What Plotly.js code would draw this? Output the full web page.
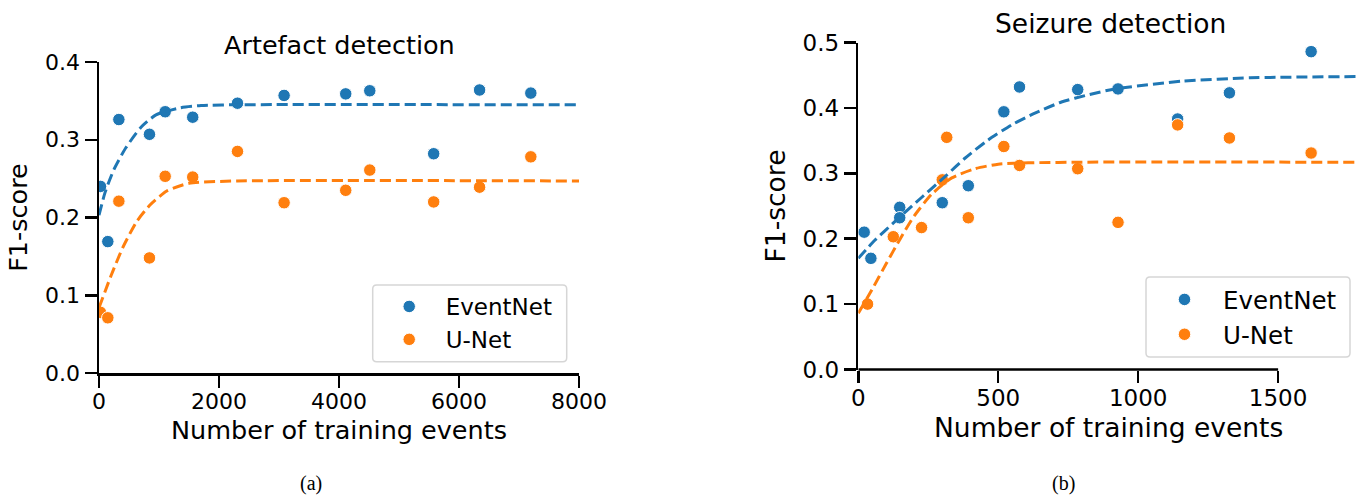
<!DOCTYPE html>
<html>
<head>
<meta charset="utf-8">
<script src="https://cdn.plot.ly/plotly-3.0.1.min.js"></script>
<style>html,body{margin:0;padding:0;background:#fff;}#chart{width:1359px;height:496px;}</style>
</head>
<body>
<div id="chart"></div>
<script>
// ---- Artefact detection (a) ----
const artX = [25, 147, 331, 841, 1103, 1562, 2308, 3085, 4112, 4513, 5578, 6343, 7197];
const artEventNet = [0.240, 0.169, 0.326, 0.307, 0.336, 0.329, 0.347, 0.357, 0.359, 0.363, 0.282, 0.364, 0.360];
const artUNet = [0.078, 0.071, 0.221, 0.148, 0.253, 0.252, 0.285, 0.219, 0.235, 0.261, 0.220, 0.239, 0.278];
const artFitXE = [0, 100, 250, 450, 700, 950, 1350, 1700, 2300, 8000];
const artFitEventNet = [0.203, 0.232, 0.262, 0.290, 0.316, 0.332, 0.341, 0.344, 0.345, 0.345];
const artFitXU = [0, 200, 400, 630, 850, 1130, 1500, 2300, 8000];
const artFitUNet = [0.084, 0.125, 0.162, 0.195, 0.216, 0.234, 0.244, 0.247, 0.247];
const artXTicks = [0, 2000, 4000, 6000, 8000];
const artYTicks = [0.0, 0.1, 0.2, 0.3, 0.4];

// ---- Seizure detection (b) ----
const seizXEventNet = [21, 45, 148, 148, 300, 393, 520, 576, 784, 928, 1141, 1326, 1618];
const seizEventNet = [0.210, 0.170, 0.248, 0.232, 0.255, 0.281, 0.394, 0.432, 0.428, 0.429, 0.383, 0.423, 0.486];
const seizXUNet = [33, 125, 226, 300, 316, 393, 520, 576, 784, 928, 1141, 1326, 1618];
const seizUNet = [0.100, 0.203, 0.217, 0.290, 0.355, 0.232, 0.341, 0.312, 0.307, 0.225, 0.374, 0.354, 0.331];
const seizFitXE = [0, 60, 143, 226, 310, 381, 464, 548, 631, 726, 821, 917, 1160, 1400, 1789];
const seizFitEventNet = [0.170, 0.198, 0.231, 0.263, 0.295, 0.323, 0.351, 0.374, 0.392, 0.409, 0.420, 0.429, 0.441, 0.446, 0.448];
const seizFitXU = [0, 50, 100, 150, 200, 262, 334, 417, 500, 607, 800, 1789];
const seizFitUNet = [0.086, 0.123, 0.162, 0.200, 0.235, 0.268, 0.293, 0.307, 0.314, 0.316, 0.317, 0.317];
const seizXTicks = [0, 500, 1000, 1500];
const seizYTicks = [0.0, 0.1, 0.2, 0.3, 0.4, 0.5];

const seriesNames = ['EventNet', 'U-Net'];
const titles = ['Artefact detection', 'Seizure detection'];
const captions = ['(a)', '(b)'];
const xLabel = 'Number of training events';
const yLabel = 'F1-score';

const BLUE = '#1f77b4', ORANGE = '#ff7f0e';
const FONT = 'DejaVu Sans, Verdana, sans-serif';
const W = 1359, H = 496;
const px = v => v / W;
const py = v => (H - v) / H;

function pts(x, y, name, color, xa, ya, leg) {
  return {type: 'scatter', mode: 'markers', x: x, y: y, name: name, xaxis: xa, yaxis: ya, legend: leg,
    marker: {color: color, size: 12.5, line: {color: '#ffffff', width: 1}}, hoverinfo: 'x+y'};
}
function fit(x, y, color, xa, ya) {
  return {type: 'scatter', mode: 'lines', x: x, y: y, xaxis: xa, yaxis: ya, showlegend: false,
    line: {color: color, width: 3, dash: '11px,5px', shape: 'spline', smoothing: 0.6}, hoverinfo: 'skip'};
}

const data = [
  pts(artX, artEventNet, seriesNames[0], BLUE, 'x', 'y', 'legend'),
  pts(artX, artUNet, seriesNames[1], ORANGE, 'x', 'y', 'legend'),
  fit(artFitXE, artFitEventNet, BLUE, 'x', 'y'),
  fit(artFitXU, artFitUNet, ORANGE, 'x', 'y'),
  pts(seizXEventNet, seizEventNet, seriesNames[0], BLUE, 'x2', 'y2', 'legend2'),
  pts(seizXUNet, seizUNet, seriesNames[1], ORANGE, 'x2', 'y2', 'legend2'),
  fit(seizFitXE, seizFitEventNet, BLUE, 'x2', 'y2'),
  fit(seizFitXU, seizFitUNet, ORANGE, 'x2', 'y2')
];

const axCommon = {showgrid: false, zeroline: false, ticks: 'outside', ticklen: 12, tickwidth: 2.5,
  tickcolor: '#000', linecolor: '#000', linewidth: 2.5, tickfont: {family: FONT, size: 22, color: '#000'}};

// rounded legend frame (paper coords from pixel box)
function roundBox(x0, y0, x1, y1, r) {
  const X = v => px(v).toFixed(5), Y = v => py(v).toFixed(5);
  return 'M ' + X(x0 + r) + ' ' + Y(y0) + ' L ' + X(x1 - r) + ' ' + Y(y0) +
    ' Q ' + X(x1) + ' ' + Y(y0) + ' ' + X(x1) + ' ' + Y(y0 + r) +
    ' L ' + X(x1) + ' ' + Y(y1 - r) + ' Q ' + X(x1) + ' ' + Y(y1) + ' ' + X(x1 - r) + ' ' + Y(y1) +
    ' L ' + X(x0 + r) + ' ' + Y(y1) + ' Q ' + X(x0) + ' ' + Y(y1) + ' ' + X(x0) + ' ' + Y(y1 - r) +
    ' L ' + X(x0) + ' ' + Y(y0 + r) + ' Q ' + X(x0) + ' ' + Y(y0) + ' ' + X(x0 + r) + ' ' + Y(y0) + ' Z';
}

const layout = {
  width: W, height: H, margin: {l: 0, r: 0, t: 0, b: 0},
  paper_bgcolor: '#fff', plot_bgcolor: '#fff',
  font: {family: FONT, color: '#000'},
  xaxis: Object.assign({}, axCommon, {domain: [px(99), px(579)], range: [0, 8000], tickvals: artXTicks,
    showline: true, anchor: 'y', ticklabelstandoff: -5,
    title: {text: xLabel, font: {family: FONT, size: 25.5, color: '#000'}, standoff: 8}}),
  yaxis: Object.assign({}, axCommon, {domain: [py(373), py(62)], range: [0, 0.4], tickvals: artYTicks, tickformat: '.1f',
    showline: true, anchor: 'x', title: {text: yLabel, font: {family: FONT, size: 25.5, color: '#000'}, standoff: 10}}),
  xaxis2: Object.assign({}, axCommon, {domain: [px(858.3), 1], range: [0, 1789], tickvals: seizXTicks,
    showline: false, anchor: 'y2', ticklabelstandoff: -4, tickfont: {family: FONT, size: 23, color: '#000'},
    title: {text: xLabel, font: {family: FONT, size: 26.5, color: '#000'}, standoff: 8}}),
  yaxis2: Object.assign({}, axCommon, {domain: [py(369.5), py(42.5)], range: [0, 0.5], tickvals: seizYTicks, tickformat: '.1f',
    showline: true, anchor: 'x2', tickfont: {family: FONT, size: 23, color: '#000'},
    title: {text: yLabel, font: {family: FONT, size: 26.5, color: '#000'}, standoff: 10}}),
  shapes: [
    {type: 'line', xref: 'x2', yref: 'y2 domain', x0: 0, x1: seizXTicks[seizXTicks.length - 1], y0: 0, y1: 0,
      line: {color: '#000', width: 2.5}, layer: 'above'},
    {type: 'path', xref: 'paper', yref: 'paper', path: roundBox(372.7, 285, 566.7, 361.7, 4),
      fillcolor: 'rgba(255,255,255,0.8)', line: {color: '#d6d6d6', width: 1.5}, layer: 'above'},
    {type: 'path', xref: 'paper', yref: 'paper', path: roundBox(1146, 277, 1350, 357, 4),
      fillcolor: 'rgba(255,255,255,0.8)', line: {color: '#d6d6d6', width: 1.5}, layer: 'above'}
  ],
  legend: {x: px(372.7), y: py(285), xanchor: 'left', yanchor: 'top', bgcolor: 'rgba(0,0,0,0)',
    borderwidth: 0, font: {family: FONT, size: 23, color: '#000'}, itemwidth: 63},
  legend2: {x: px(1146), y: py(277), xanchor: 'left', yanchor: 'top', bgcolor: 'rgba(0,0,0,0)',
    borderwidth: 0, font: {family: FONT, size: 24.5, color: '#000'}, itemwidth: 67},
  annotations: [
    {text: titles[0], xref: 'paper', yref: 'paper', x: px(339), y: py(45), xanchor: 'center', yanchor: 'middle',
      showarrow: false, font: {family: FONT, size: 25.5, color: '#000'}},
    {text: titles[1], xref: 'paper', yref: 'paper', x: px(1110), y: py(24), xanchor: 'center', yanchor: 'middle',
      showarrow: false, font: {family: FONT, size: 26.5, color: '#000'}},
    {text: captions[0], xref: 'paper', yref: 'paper', x: px(311), y: py(483), xanchor: 'center', yanchor: 'middle',
      showarrow: false, font: {family: 'Liberation Serif, Times New Roman, serif', size: 20, color: '#000'}},
    {text: captions[1], xref: 'paper', yref: 'paper', x: px(1063), y: py(483), xanchor: 'center', yanchor: 'middle',
      showarrow: false, font: {family: 'Liberation Serif, Times New Roman, serif', size: 20, color: '#000'}}
  ]
};

Plotly.newPlot('chart', data, layout, {displayModeBar: false, staticPlot: true});
</script>
</body>
</html>
